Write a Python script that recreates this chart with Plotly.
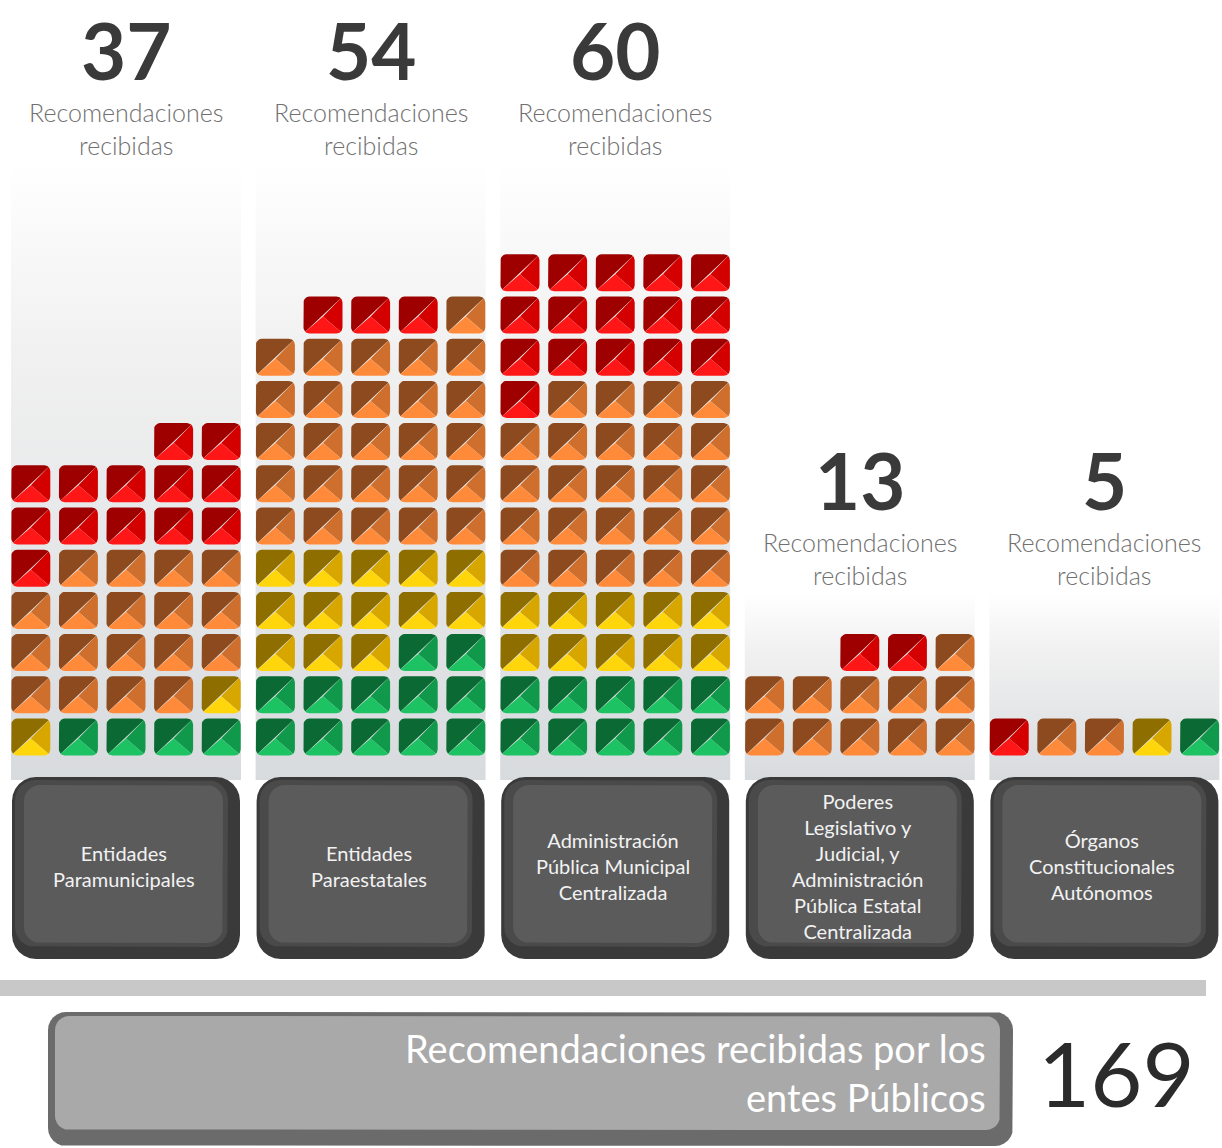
import math
import plotly.graph_objects as go

# ---------------- data ----------------
categories = [
    "Entidades<br>Paramunicipales",
    "Entidades<br>Paraestatales",
    "Administración<br>Pública Municipal<br>Centralizada",
    "Poderes<br>Legislativo y<br>Judicial, y<br>Administración<br>Pública Estatal<br>Centralizada",
    "Órganos<br>Constitucionales<br>Autónomos",
]
green_counts = [4, 12, 10, 0, 1]
yellow_counts = [2, 13, 10, 0, 1]
orange_counts = [18, 26, 24, 11, 2]
red_counts = [13, 3, 16, 2, 1]
count_caption = "Recomendaciones<br>recibidas"
summary_caption = "Recomendaciones recibidas por los<br>entes Públicos"

# ------------- layout / style -------------
W, H = 1222, 1148
COL_X0, COL_PITCH = 126.0, 244.6
PER_ROW = 5
CELL_DX, CELL_DY = 47.6, 42.2
SQ_W, SQ_H, SQ_R = 39.0, 37.0, 6.0
ROW0_Y = 737.0
PANEL_HALF = 115.0
PANEL_TOP = [163, 163, 163, 593, 593]
PANEL_BOTTOM = 780
BOX_TOP, BOX_BOTTOM, BOX_HALF = 777, 959, 114
FONT = "Lato"

SHADES = {
    "green": ("#0B6A33", "#10994A", "#1DC263"),
    "yellow": ("#8F6E00", "#D7A700", "#FFD60C"),
    "orange": ("#8C4A1E", "#CF6F2E", "#FF8B3A"),
    "red": ("#9E0000", "#D40000", "#FF1616"),
}
series = [("green", green_counts), ("yellow", yellow_counts),
          ("orange", orange_counts), ("red", red_counts)]


def col_x(i):
    return COL_X0 + i * COL_PITCH


def rr_arcs(x0, y0, x1, y1, r, n=6):
    corners = [(x0 + r, y0 + r, 180), (x1 - r, y0 + r, 270),
               (x1 - r, y1 - r, 0), (x0 + r, y1 - r, 90)]
    arcs = []
    for cx, cy, a0 in corners:
        arcs.append([(cx + r * math.cos(math.radians(a0 + 90 * k / n)),
                      cy + r * math.sin(math.radians(a0 + 90 * k / n))) for k in range(n + 1)])
    return arcs


def add_poly(store, pts):
    xs, ys = store
    for p in pts:
        xs.append(p[0]); ys.append(p[1])
    xs.append(pts[0][0]); ys.append(pts[0][1])
    xs.append(None); ys.append(None)


def rr_outline(x0, y0, x1, y1, r):
    pts = []
    for a in rr_arcs(x0, y0, x1, y1, r):
        pts += a
    return pts


def poly_trace(store, color):
    return go.Scatter(x=store[0], y=store[1], mode="lines", fill="toself",
                      fillcolor=color, line=dict(width=0), hoverinfo="skip", showlegend=False)


fig = go.Figure()

# background panels with vertical gradient
for i in range(len(categories)):
    cx = col_x(i)
    top = PANEL_TOP[i]
    fig.add_trace(go.Scatter(
        x=[cx - PANEL_HALF, cx + PANEL_HALF, cx + PANEL_HALF, cx - PANEL_HALF, cx - PANEL_HALF],
        y=[top, top, PANEL_BOTTOM, PANEL_BOTTOM, top],
        mode="lines", fill="toself", line=dict(width=0),
        fillgradient=dict(type="vertical", start=top, stop=PANEL_BOTTOM,
                          colorscale=[[0, "#FFFFFF"], [0.3, "#F1F1F1"], [1, "#D8DBDE"]]),
        hoverinfo="skip", showlegend=False))

# squares (three faces each)
faces = {name: [([], []), ([], []), ([], [])] for name, _ in series}
for i in range(len(categories)):
    cx = col_x(i)
    seq = []
    for name, counts in series:
        seq += [name] * counts[i]
    for k, name in enumerate(seq):
        row = k // PER_ROW
        slot = PER_ROW - 1 - (k % PER_ROW)
        x = cx + (slot - (PER_ROW - 1) / 2) * CELL_DX
        y = ROW0_Y - row * CELL_DY
        x0, x1 = x - SQ_W / 2, x + SQ_W / 2
        y0, y1 = y - SQ_H / 2, y + SQ_H / 2
        tl, tr, br, bl = rr_arcs(x0, y0, x1, y1, SQ_R)
        m = len(tl) // 2
        c = (x, y + SQ_H * 0.04)
        add_poly(faces[name][0], bl[m:] + tl + tr[:m + 1])
        add_poly(faces[name][1], [c] + tr[m:] + br[:m + 1])
        add_poly(faces[name][2], [c] + br[m:] + bl[:m + 1])

for name, _ in series:
    for s in range(3):
        if faces[name][s][0]:
            fig.add_trace(poly_trace(faces[name][s], SHADES[name][s]))

# category boxes (bevelled)
outer, rim, inner = ([], []), ([], []), ([], [])
for i in range(len(categories)):
    cx = col_x(i)
    add_poly(outer, rr_outline(cx - BOX_HALF, BOX_TOP, cx + BOX_HALF, BOX_BOTTOM, 24))
    add_poly(rim, rr_outline(cx - BOX_HALF + 3, BOX_TOP + 3, cx + BOX_HALF - 12, BOX_BOTTOM - 12, 20))
    add_poly(inner, rr_outline(cx - BOX_HALF + 12, BOX_TOP + 8, cx + BOX_HALF - 17, BOX_BOTTOM - 16, 16))
fig.add_trace(poly_trace(outer, "#3A3A3A"))
fig.add_trace(poly_trace(rim, "#4A4A4A"))
fig.add_trace(poly_trace(inner, "#5B5B5B"))

# separator bar
sep = ([], [])
add_poly(sep, [(0, 980), (1206, 980), (1206, 996), (0, 996)])
fig.add_trace(poly_trace(sep, "#C8C8C8"))

# summary box
sb_out, sb_in = ([], []), ([], [])
add_poly(sb_out, rr_outline(48, 1012, 1013, 1146, 18))
add_poly(sb_in, rr_outline(55, 1016, 1000, 1130, 14))
fig.add_trace(poly_trace(sb_out, "#6B6B6B"))
fig.add_trace(poly_trace(sb_in, "#A9A9A9"))

# texts
totals = [g + yl + o + r for g, yl, o, r in zip(green_counts, yellow_counts, orange_counts, red_counts)]
annotations = []
for i, cat in enumerate(categories):
    cx = col_x(i)
    top = PANEL_TOP[i]
    annotations.append(dict(x=cx, y=top - 162, text=str(totals[i]), showarrow=False,
                            font=dict(family=FONT, size=78, color="#3A3A3A", weight=700),
                            xanchor="center", yanchor="top"))
    annotations.append(dict(x=cx, y=top - 35, text=count_caption, showarrow=False,
                            font=dict(family=FONT, size=25, color="#707070", weight=300),
                            xanchor="center", yanchor="middle"))
    annotations.append(dict(x=cx - 2, y=(BOX_TOP + BOX_BOTTOM) / 2 - 2, text=cat, showarrow=False,
                            font=dict(family=FONT, size=20, color="#F2F2F2"),
                            xanchor="center", yanchor="middle"))
annotations.append(dict(x=988, y=1072, text=summary_caption, showarrow=False, align="right",
                        font=dict(family=FONT, size=38, color="#FFFFFF"),
                        xanchor="right", yanchor="middle"))
annotations.append(dict(x=1116, y=1072, text=str(sum(totals)), showarrow=False,
                        font=dict(family=FONT, size=90, color="#2B2B2B"),
                        xanchor="center", yanchor="middle"))

fig.update_layout(
    width=W, height=H, margin=dict(l=0, r=0, t=0, b=0),
    paper_bgcolor="white", plot_bgcolor="white",
    xaxis=dict(range=[0, W], visible=False, fixedrange=True),
    yaxis=dict(range=[H, 0], visible=False, fixedrange=True),
    annotations=annotations, showlegend=False,
)
fig.write_html("out.html", config={"displayModeBar": False},
               post_script="document.body.style.margin='0px';")
